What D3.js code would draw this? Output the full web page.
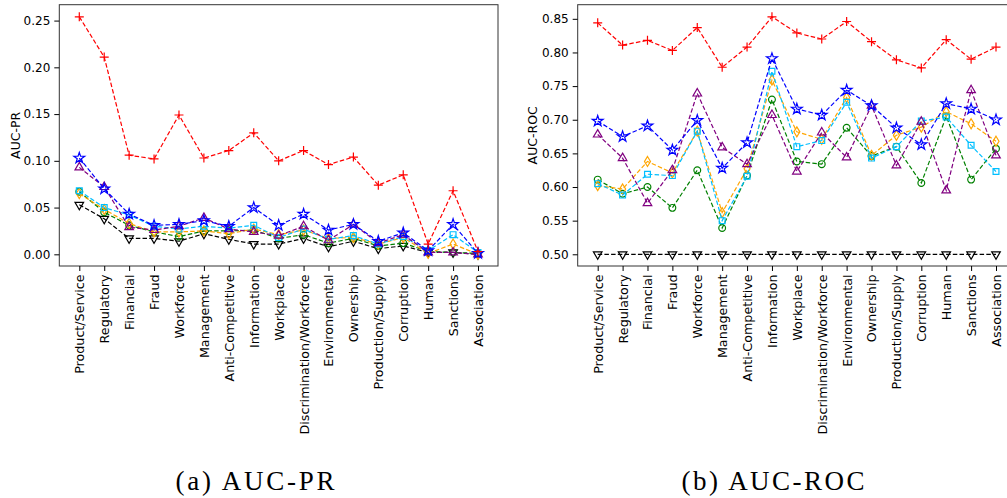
<!DOCTYPE html>
<html>
<head>
<meta charset="utf-8">
<script src="https://cdn.jsdelivr.net/npm/d3@7"></script>
<style>
  body { margin: 0; background: #fff; }
  svg { display: block; }
</style>
</head>
<body>
<div id="chart"></div>
<script>
const categories = ['Product/Service', 'Regulatory', 'Financial', 'Fraud', 'Workforce', 'Management',
  'Anti-Competitive', 'Information', 'Workplace', 'Discrimination/Workforce', 'Environmental',
  'Ownership', 'Production/Supply', 'Corruption', 'Human', 'Sanctions', 'Association'];

// AUC-PR, one array per method
const prRed    = [0.254, 0.211, 0.106, 0.102, 0.149, 0.103, 0.111, 0.130, 0.100, 0.111, 0.096, 0.104, 0.074, 0.085, 0.011, 0.068, 0.003];
const prBlue   = [0.103, 0.070, 0.043, 0.031, 0.032, 0.036, 0.030, 0.050, 0.031, 0.043, 0.026, 0.032, 0.014, 0.023, 0.004, 0.032, 0.001];
const prPurple = [0.093, 0.072, 0.029, 0.026, 0.030, 0.039, 0.027, 0.024, 0.020, 0.030, 0.015, 0.032, 0.012, 0.021, 0.002, 0.002, 0.000];
const prCyan   = [0.068, 0.050, 0.042, 0.030, 0.027, 0.030, 0.028, 0.031, 0.018, 0.027, 0.016, 0.020, 0.011, 0.019, 0.004, 0.021, 0.002];
const prOrange = [0.065, 0.048, 0.033, 0.024, 0.024, 0.025, 0.022, 0.027, 0.021, 0.026, 0.017, 0.018, 0.011, 0.018, 0.001, 0.011, 0.000];
const prGreen  = [0.067, 0.045, 0.031, 0.024, 0.019, 0.025, 0.025, 0.026, 0.017, 0.021, 0.012, 0.017, 0.009, 0.012, 0.003, 0.002, 0.001];
const prBlack  = [0.053, 0.038, 0.017, 0.017, 0.014, 0.022, 0.016, 0.011, 0.011, 0.017, 0.008, 0.014, 0.006, 0.009, 0.002, 0.002, 0.000];

// AUC-ROC
const rocRed    = [0.844, 0.811, 0.818, 0.803, 0.837, 0.778, 0.808, 0.853, 0.829, 0.820, 0.846, 0.816, 0.789, 0.777, 0.819, 0.790, 0.808];
const rocBlue   = [0.698, 0.675, 0.691, 0.655, 0.699, 0.628, 0.666, 0.791, 0.716, 0.707, 0.744, 0.721, 0.688, 0.663, 0.724, 0.716, 0.700];
const rocPurple = [0.678, 0.643, 0.576, 0.625, 0.739, 0.659, 0.634, 0.707, 0.623, 0.681, 0.644, 0.721, 0.632, 0.697, 0.595, 0.744, 0.647];
const rocCyan   = [0.605, 0.588, 0.619, 0.617, 0.683, 0.550, 0.616, 0.772, 0.660, 0.669, 0.726, 0.643, 0.660, 0.698, 0.704, 0.662, 0.623];
const rocOrange = [0.602, 0.597, 0.638, 0.621, 0.683, 0.562, 0.627, 0.759, 0.682, 0.671, 0.733, 0.647, 0.677, 0.689, 0.712, 0.694, 0.668];
const rocGreen  = [0.611, 0.590, 0.600, 0.569, 0.625, 0.539, 0.617, 0.730, 0.638, 0.634, 0.688, 0.646, 0.660, 0.606, 0.705, 0.611, 0.657];
const rocBlack  = [0.500, 0.500, 0.500, 0.500, 0.500, 0.500, 0.500, 0.500, 0.500, 0.500, 0.500, 0.500, 0.500, 0.500, 0.500, 0.500, 0.500];

const prTicks  = [0.00, 0.05, 0.10, 0.15, 0.20, 0.25];
const rocTicks = [0.50, 0.55, 0.60, 0.65, 0.70, 0.75, 0.80, 0.85];

const width = 1007;
const height = 498;
const sans = 'DejaVu Sans, sans-serif';

const svg = d3.select('#chart')
  .append('svg')
  .attr('width', width)
  .attr('height', height)
  .attr('font-family', sans);

// marker shapes, matplotlib-ish
const symbolPath = {
  plus: 'M-4.5,0H4.5M0,-4.5V4.5',
  star: d3.symbol(d3.symbolStar, 36)(),
  triUp: d3.symbol(d3.symbolTriangle, 32)(),
  triDown: d3.symbol(d3.symbolTriangle, 32)(),
  square: d3.symbol(d3.symbolSquare, 34)(),
  thinDiamond: 'M0,-5L3,0L0,5L-3,0Z',
  circle: d3.symbol(d3.symbolCircle, 36)()
};

function drawPanel(opt) {
  const g = svg.append('g');
  const x = d3.scalePoint()
    .domain(categories)
    .range([opt.left + 20, opt.right - 20]);
  const y = d3.scaleLinear()
    .domain(opt.yDomain)
    .range([266, 4.7]);

  // frame
  g.append('rect')
    .attr('x', opt.left)
    .attr('y', 4.7)
    .attr('width', opt.right - opt.left)
    .attr('height', 266 - 4.7)
    .attr('fill', 'none')
    .attr('stroke', '#333')
    .attr('stroke-width', 1);

  const yAxis = g.append('g')
    .attr('transform', `translate(${opt.left},0)`)
    .call(d3.axisLeft(y).tickValues(opt.ticks).tickFormat(d3.format('.2f')).tickSize(5).tickPadding(4));
  yAxis.attr('font-family', sans).attr('font-size', 12);
  yAxis.select('.domain').remove();
  yAxis.selectAll('text').attr('fill', '#000');

  const xAxis = g.append('g')
    .attr('transform', 'translate(0,266)')
    .call(d3.axisBottom(x).tickSize(5));
  xAxis.attr('font-family', sans).attr('font-size', 12.7);
  xAxis.select('.domain').remove();
  xAxis.selectAll('text')
    .attr('fill', '#000')
    .attr('text-anchor', 'end')
    .attr('transform', 'rotate(-90)')
    .attr('x', -8.5)
    .attr('y', 0)
    .attr('dy', '0.35em');

  g.append('text')
    .attr('transform', `translate(${opt.labelX},135.3) rotate(-90)`)
    .attr('text-anchor', 'middle')
    .attr('dy', '0.35em')
    .attr('font-size', '12.5px')
    .text(opt.ylabel);

  const line = d3.line()
    .x((d, i) => x(categories[i]))
    .y(d => y(d));

  opt.series.forEach(s => {
    g.append('path')
      .datum(s.values)
      .attr('d', line)
      .attr('fill', 'none')
      .attr('stroke', s.color)
      .attr('stroke-width', 1.2)
      .attr('stroke-dasharray', '4.5,2.2');

    g.append('g')
      .selectAll('path')
      .data(s.values)
      .join('path')
      .attr('d', symbolPath[s.marker])
      .attr('transform', (d, i) => `translate(${x(categories[i])},${y(d)})` + (s.marker === 'triDown' ? ' rotate(180)' : ''))
      .attr('fill', 'none')
      .attr('stroke', s.color)
      .attr('stroke-width', 1.2);
  });

  svg.append('text')
    .attr('x', opt.captionX)
    .attr('y', 490)
    .attr('text-anchor', 'middle')
    .attr('font-family', 'Liberation Serif, serif')
    .attr('font-size', '27px')
    .attr('textLength', opt.captionW)
    .attr('lengthAdjust', 'spacing')
    .text(opt.caption);
}

drawPanel({
  left: 59.3, right: 498, yDomain: [-0.0125, 0.267], ticks: prTicks, ylabel: 'AUC-PR', labelX: 16,
  caption: '(a) AUC-PR', captionX: 255, captionW: 159,
  series: [
    { values: prBlack, color: '#000000', marker: 'triDown' },
    { values: prGreen, color: 'green', marker: 'circle' },
    { values: prOrange, color: 'orange', marker: 'thinDiamond' },
    { values: prCyan, color: 'deepskyblue', marker: 'square' },
    { values: prPurple, color: 'purple', marker: 'triUp' },
    { values: prBlue, color: 'blue', marker: 'star' },
    { values: prRed, color: 'red', marker: 'plus' }
  ]
});

drawPanel({
  left: 577.7, right: 1016, yDomain: [0.4826, 0.871], ticks: rocTicks, ylabel: 'AUC-ROC', labelX: 533,
  caption: '(b) AUC-ROC', captionX: 773, captionW: 183,
  series: [
    { values: rocBlack, color: '#000000', marker: 'triDown' },
    { values: rocGreen, color: 'green', marker: 'circle' },
    { values: rocOrange, color: 'orange', marker: 'thinDiamond' },
    { values: rocCyan, color: 'deepskyblue', marker: 'square' },
    { values: rocPurple, color: 'purple', marker: 'triUp' },
    { values: rocBlue, color: 'blue', marker: 'star' },
    { values: rocRed, color: 'red', marker: 'plus' }
  ]
});
</script>
</body>
</html>
